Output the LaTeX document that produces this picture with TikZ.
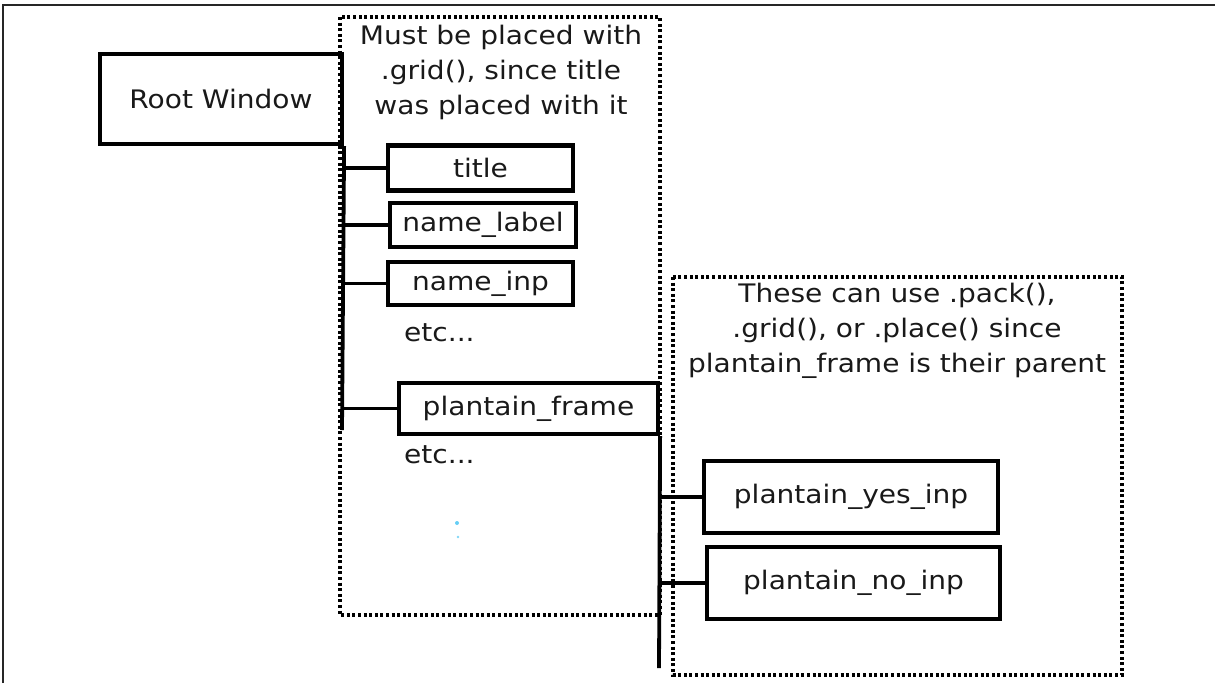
\documentclass[tikz,border=0pt]{standalone}
\usepackage{fontspec}
\setmainfont{DejaVu Sans}[FakeStretch=1.1]
\begin{document}
\begin{tikzpicture}[x=1pt,y=-1pt,
  every node/.style={font=\fontsize{25.5}{35}\selectfont, text=black!90},
  wbox/.style={draw=black, line width=4.2pt, minimum width=#1, inner sep=0pt},
  conn/.style={draw=black, line width=3.8pt},
  dotbox/.style={draw=black, line width=3.6pt, dash pattern=on 3pt off 2.6pt},
  note/.style={align=center, inner sep=0pt},
  etc/.style={anchor=west, inner sep=0pt}]
\useasboundingbox (0,0) rectangle (1215,683);
% outer frame
\draw[line width=2pt, black!85] (3,683) -- (3,5) -- (1215,5);
% dotted groups
\draw[dotbox] (340,17) rectangle (660,615);
\draw[dotbox] (673,277) rectangle (1122,675);
% notes
\node[note] (note1) at (501,72) {Must be placed with\\.grid(), since title\\was placed with it};
\node[note] (note2) at (897,331) {These can use .pack(),\\.grid(), or .place() since\\plantain\_frame is their parent};
% boxes
\node[wbox=242pt, minimum height=90pt] (root) at (221,99) {Root Window};
\node[wbox=185pt, minimum height=45pt] (title) at (480.5,168) {title};
\node[wbox=186pt, minimum height=44pt] (namelabel) at (483,225) {name\_label};
\node[wbox=185pt, minimum height=43pt] (nameinp) at (480.5,283.5) {name\_inp};
\node[wbox=259pt, minimum height=51pt] (pframe) at (528.5,408.5) {plantain\_frame};
\node[wbox=294pt, minimum height=72pt] (yes) at (851,497) {plantain\_yes\_inp};
\node[wbox=293pt, minimum height=72pt] (no) at (853.5,583) {plantain\_no\_inp};
\node[etc] (etc1) at (404,333) {etc...};
\node[etc] (etc2) at (404,455) {etc...};
% trunk 1
\coordinate (t1end) at (342,430);
\draw[conn] (root.south east) -- (t1end);
\draw[conn] (title.west -| root.east) -- (title.west);
\draw[conn] (namelabel.west -| root.east) -- (namelabel.west);
\draw[conn] (nameinp.west -| root.east) -- (nameinp.west);
\draw[conn] (pframe.west -| root.east) -- (pframe.west);
% trunk 2
\coordinate (t2end) at (659,668);
\draw[conn] (pframe.south east) -- (t2end);
\draw[conn] (yes.west -| pframe.east) -- (yes.west);
\draw[conn] (no.west -| pframe.east) -- (no.west);
% stray dots
\fill[cyan!60] (457,523) circle (2pt);
\fill[cyan!50] (458,537) circle (1.3pt);
\end{tikzpicture}
\end{document}
